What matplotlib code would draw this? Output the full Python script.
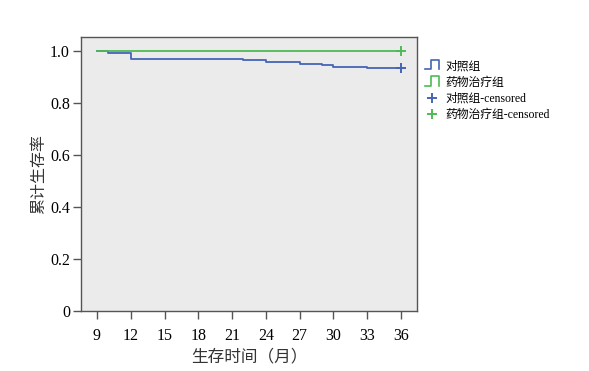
import matplotlib
matplotlib.use("Agg")
import matplotlib.pyplot as plt
from matplotlib.legend_handler import HandlerBase
from matplotlib.lines import Line2D

plt.rcParams["font.family"] = ["Liberation Serif", "Noto Sans CJK SC"]

# Kaplan-Meier step data
ctrl_t = [9, 10, 12, 22, 24, 27, 29, 30, 33, 36]
ctrl_s = [1.0, 0.993, 0.970, 0.965, 0.957, 0.952, 0.945, 0.938, 0.934, 0.934]
drug_t = [9, 36]
drug_s = [1.0, 1.0]
censor_t = 36
xticks = [9, 12, 15, 18, 21, 24, 27, 30, 33, 36]
yticks = [0, 0.2, 0.4, 0.6, 0.8, 1.0]
ylabels = ["0", "0.2", "0.4", "0.6", "0.8", "1.0"]

BLUE = "#4464b4"
GREEN = "#4dbb55"
SPINE = "#555555"


class StepHandler(HandlerBase):
    def create_artists(self, legend, orig_handle, xdescent, ydescent,
                       width, height, fontsize, trans):
        x0, y0 = -xdescent, -ydescent
        h = height * 1.1
        xs = [x0, x0 + 0.4 * width, x0 + 0.4 * width, x0 + width, x0 + width]
        ys = [y0, y0, y0 + h, y0 + h, y0]
        ln = Line2D(xs, ys, color=orig_handle.get_color(), lw=1.2, transform=trans)
        return [ln]


fig = plt.figure(figsize=(5.89, 3.71), dpi=100)
ax = fig.add_axes([0.1375, 0.1617, 0.5705, 0.7385])
ax.set_facecolor("#ebebeb")

l1, = ax.step(ctrl_t, ctrl_s, where="post", color=BLUE, lw=1.3)
l2, = ax.step(drug_t, drug_s, where="post", color=GREEN, lw=1.3)
c1, = ax.plot([censor_t], [ctrl_s[-1]], "+", color=BLUE, ms=7, mew=1.4, ls="none")
c2, = ax.plot([censor_t], [drug_s[-1]], "+", color=GREEN, ms=7, mew=1.4, ls="none")

ax.set_xlim(7.58, 37.42)
ax.set_ylim(0, 1.054)
ax.set_xticks(xticks)
ax.set_yticks(yticks)
ax.set_yticklabels(ylabels)
ax.tick_params(axis="both", direction="out", length=6, width=1, color=SPINE,
               labelsize=11.5)
ax.tick_params(axis="x", pad=6)
ax.tick_params(axis="y", pad=2)
for s in ax.spines.values():
    s.set_color(SPINE)
    s.set_linewidth(1)

ax.set_ylabel("累计生存率", fontsize=11.5, color="#333333", labelpad=2)
ax.set_xlabel("生存时间（月）", fontsize=12, color="#333333", labelpad=4)

fig.legend([l1, l2, c1, c2],
           ["对照组", "药物治疗组", "对照组-censored", "药物治疗组-censored"],
           handler_map={l1: StepHandler(), l2: StepHandler()},
           loc="upper left", bbox_to_anchor=(0.714, 0.85), frameon=False,
           fontsize=8.5, handlelength=1.2, handletextpad=0.5, labelspacing=0.35,
           borderaxespad=0)

fig.savefig("out.png", dpi=100)
